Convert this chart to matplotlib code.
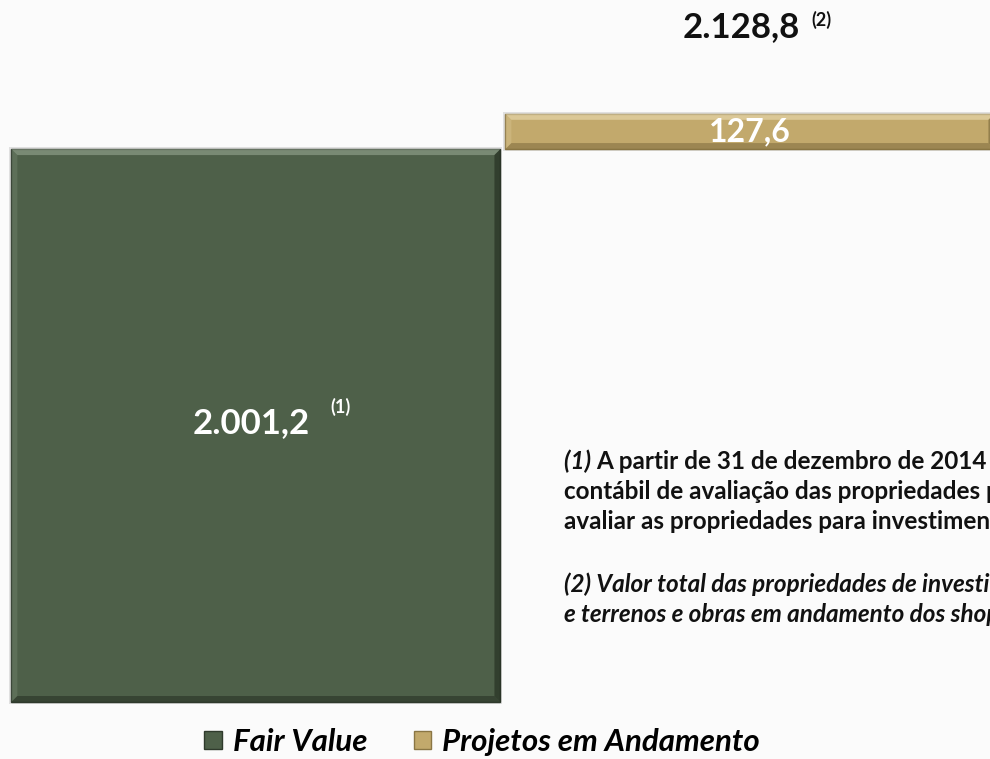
import matplotlib
matplotlib.use("Agg")
import matplotlib.pyplot as plt
from matplotlib.patches import Polygon, Rectangle

# Data (R$ milhões)
categories = ["Fair Value", "Projetos em Andamento"]
fair_value = 2001.2
projetos = 127.6
total = fair_value + projetos
value_labels = ["2.001,2", "127,6"]
total_label = "2.128,8"

notes_1 = [
    "A partir de 31 de dezembro de 2014 a Companhia alterou a prática",
    "contábil de avaliação das propriedades para investimento, passando a",
    "avaliar as propriedades para investimento a valor justo.",
]
notes_2 = [
    "(2) Valor total das propriedades de investimento (fair value)",
    "e terrenos e obras em andamento dos shoppings.",
]

green = "#4e6049"
gold = "#c2a96c"
bg = "#fbfbfb"
ink = "#111111"
FONT = "Lato"

fig = plt.figure(figsize=(9.9, 7.59), dpi=100, facecolor=bg)
ax = fig.add_axes([0, 0, 1, 1])
ax.set_facecolor(bg)
ax.set_xlim(-0.518, 1.486)
ax.set_ylim(-206.3, 2540.7)
ax.axis("off")

width = 0.99
b1 = ax.bar(0, fair_value, width=width, color=green, edgecolor="#2f3a2c",
            linewidth=1.0, label=categories[0], zorder=2)
b2 = ax.bar(1, projetos, bottom=fair_value, width=width, color=gold,
            edgecolor="#8a7644", linewidth=1.0, label=categories[1], zorder=2)


def px_offsets(px):
    inv = ax.transData.inverted()
    (x0, y0) = inv.transform((0, 0))
    (x1, y1) = inv.transform((px, px))
    return x1 - x0, y1 - y0


def bevel(rect, light, dark, px=6):
    """Draw a bevelled frame and soft shadow on a bar."""
    x0, y0 = rect.get_x(), rect.get_y()
    x1, y1 = x0 + rect.get_width(), y0 + rect.get_height()
    dx, dy = px_offsets(px)
    sx, sy = px_offsets(2)
    ax.add_patch(Rectangle((x0 - sx, y0 - sy), x1 - x0 + 2 * sx,
                           y1 - y0 + 2 * sy, facecolor="#cfcfcf",
                           edgecolor="none", alpha=0.6, zorder=1))
    top = [(x0, y1), (x1, y1), (x1 - dx, y1 - dy), (x0 + dx, y1 - dy)]
    left = [(x0, y0), (x0, y1), (x0 + dx, y1 - dy), (x0 + dx, y0 + dy)]
    right = [(x1, y0), (x1, y1), (x1 - dx, y1 - dy), (x1 - dx, y0 + dy)]
    bottom = [(x0, y0), (x1, y0), (x1 - dx, y0 + dy), (x0 + dx, y0 + dy)]
    for pts, col, a in [(top, light, 0.5), (left, light, 0.18),
                        (right, dark, 0.55), (bottom, dark, 0.45)]:
        ax.add_patch(Polygon(pts, closed=True, facecolor=col, edgecolor="none",
                             alpha=a, zorder=3))


bevel(b1[0], "#a5b5a0", "#1c2419")
bevel(b2[0], "#f5e8c2", "#6e5d33")

# value labels
ax.text(-0.01, fair_value / 2 + 9, value_labels[0], color="white",
        fontsize=25, fontweight="bold", family=FONT, ha="center",
        va="center", zorder=4)
ax.text(0.172, fair_value / 2 + 67, "(1)", color="white", fontsize=13,
        fontweight="bold", family=FONT, ha="center", va="center", zorder=4)
ax.text(1, fair_value + projetos / 2, value_labels[1], color="white",
        fontsize=23, fontweight="bold", family=FONT, ha="center",
        va="center", zorder=4)
ax.text(0.982, total + 314, total_label, color=ink, fontsize=25,
        fontweight="bold", family=FONT, ha="center", va="center")
ax.text(1.145, total + 340, "(2)", color=ink, fontsize=13,
        fontweight="bold", family=FONT, ha="center", va="center")

# footnotes
x_note = 0.6235
baselines = [843, 734, 626, 398, 289]
fs_note = 17.5
t = ax.text(x_note, baselines[0], "(1) ", fontsize=fs_note, fontweight="bold",
            fontstyle="italic", family=FONT, color=ink, va="baseline")
fig.canvas.draw()
bb = t.get_window_extent().transformed(ax.transData.inverted())
ax.text(bb.x1, baselines[0], notes_1[0], fontsize=fs_note, fontweight="bold",
        family=FONT, color=ink, va="baseline")
for yb, line in zip(baselines[1:3], notes_1[1:]):
    ax.text(x_note, yb, line, fontsize=fs_note, fontweight="bold",
            family=FONT, color=ink, va="baseline")
for yb, line in zip(baselines[3:], notes_2):
    ax.text(x_note, yb, line, fontsize=fs_note, fontweight="bold",
            fontstyle="italic", family=FONT, color=ink, va="baseline")

leg = ax.legend(handles=[b1, b2], labels=categories, loc="lower center",
                bbox_to_anchor=(0.487, -0.025), ncol=2, frameon=False,
                prop={"family": FONT, "weight": "bold", "style": "italic",
                      "size": 22.5},
                handlelength=0.55, handleheight=0.55, handletextpad=0.35,
                columnspacing=1.5, borderpad=0.2)

fig.savefig("out.png", dpi=100, facecolor=bg)
